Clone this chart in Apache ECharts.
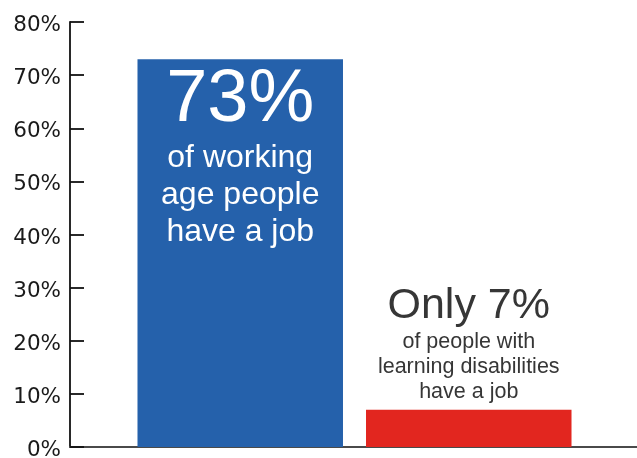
<!DOCTYPE html>
<html>
<head>
<meta charset="utf-8">
<script src="https://cdn.jsdelivr.net/npm/echarts@6/dist/echarts.min.js"></script>
<style>html,body{margin:0;padding:0;background:#fff;}#chart{width:637px;height:458px;}</style>
</head>
<body>
<div id="chart"></div>
<script>
// Data
const groups = ["Working age people", "People with learning disabilities"];
const employmentRate = [73, 7];
const headline = ["73%", "Only 7%"];
const captions = [
  ["of working", "age people", "have a job"],
  ["of people with", "learning disabilities", "have a job"]
];
const yTicks = [0, 10, 20, 30, 40, 50, 60, 70, 80];

const FONT = "'Liberation Sans', Arial, Helvetica, sans-serif";
const AXIS_FONT = "'DejaVu Sans', Verdana, sans-serif";
const chart = echarts.init(document.getElementById('chart'));

chart.setOption({
  backgroundColor: '#ffffff',
  animation: false,
  grid: { left: 70, right: -2, top: 22, bottom: 11, containLabel: false, outerBoundsMode: 'none' },
  xAxis: {
    type: 'category',
    data: [''],
    axisLine: { show: true, lineStyle: { color: '#4a4a4a', width: 2 } },
    axisTick: { show: false },
    axisLabel: { show: false }
  },
  yAxis: {
    type: 'value',
    min: yTicks[0],
    max: yTicks[yTicks.length - 1],
    interval: 10,
    axisLine: { show: true, lineStyle: { color: '#111', width: 1.8 } },
    axisTick: { show: true, inside: true, length: 14, lineStyle: { color: '#111', width: 1.8 } },
    splitLine: { show: false },
    axisLabel: {
      formatter: v => '{v|' + v + '%}',
      margin: 9,
      rich: {
        v: { fontFamily: AXIS_FONT, fontSize: 21.5, color: '#1a1a1a', padding: [7, 0, 0, 0] }
      }
    }
  },
  series: [
    {
      name: groups[0],
      type: 'bar',
      data: [employmentRate[0]],
      barWidth: 205.5,
      barGap: '11.2%',
      itemStyle: { color: '#2561ab' },
      label: {
        show: true,
        position: 'insideTop',
        distance: 2,
        formatter: '{big|' + headline[0] + '}\n' + captions[0].map(s => '{small|' + s + '}').join('\n'),
        rich: {
          big: { fontFamily: FONT, fontSize: 74, lineHeight: 78, color: '#fff', align: 'center' },
          small: { fontFamily: FONT, fontSize: 32, lineHeight: 37, color: '#fff', align: 'center' }
        }
      }
    },
    {
      name: groups[1],
      type: 'bar',
      data: [employmentRate[1]],
      barWidth: 205.5,
      itemStyle: { color: '#e2261f' },
      label: {
        show: true,
        position: 'top',
        distance: 5,
        formatter: '{big|' + headline[1] + '}\n' + captions[1].map(s => '{small|' + s + '}').join('\n'),
        rich: {
          big: { fontFamily: FONT, fontSize: 43, lineHeight: 48, color: '#363636', align: 'center' },
          small: { fontFamily: FONT, fontSize: 21.5, lineHeight: 25, color: '#363636', align: 'center' }
        }
      }
    }
  ]
});
</script>
</body>
</html>
